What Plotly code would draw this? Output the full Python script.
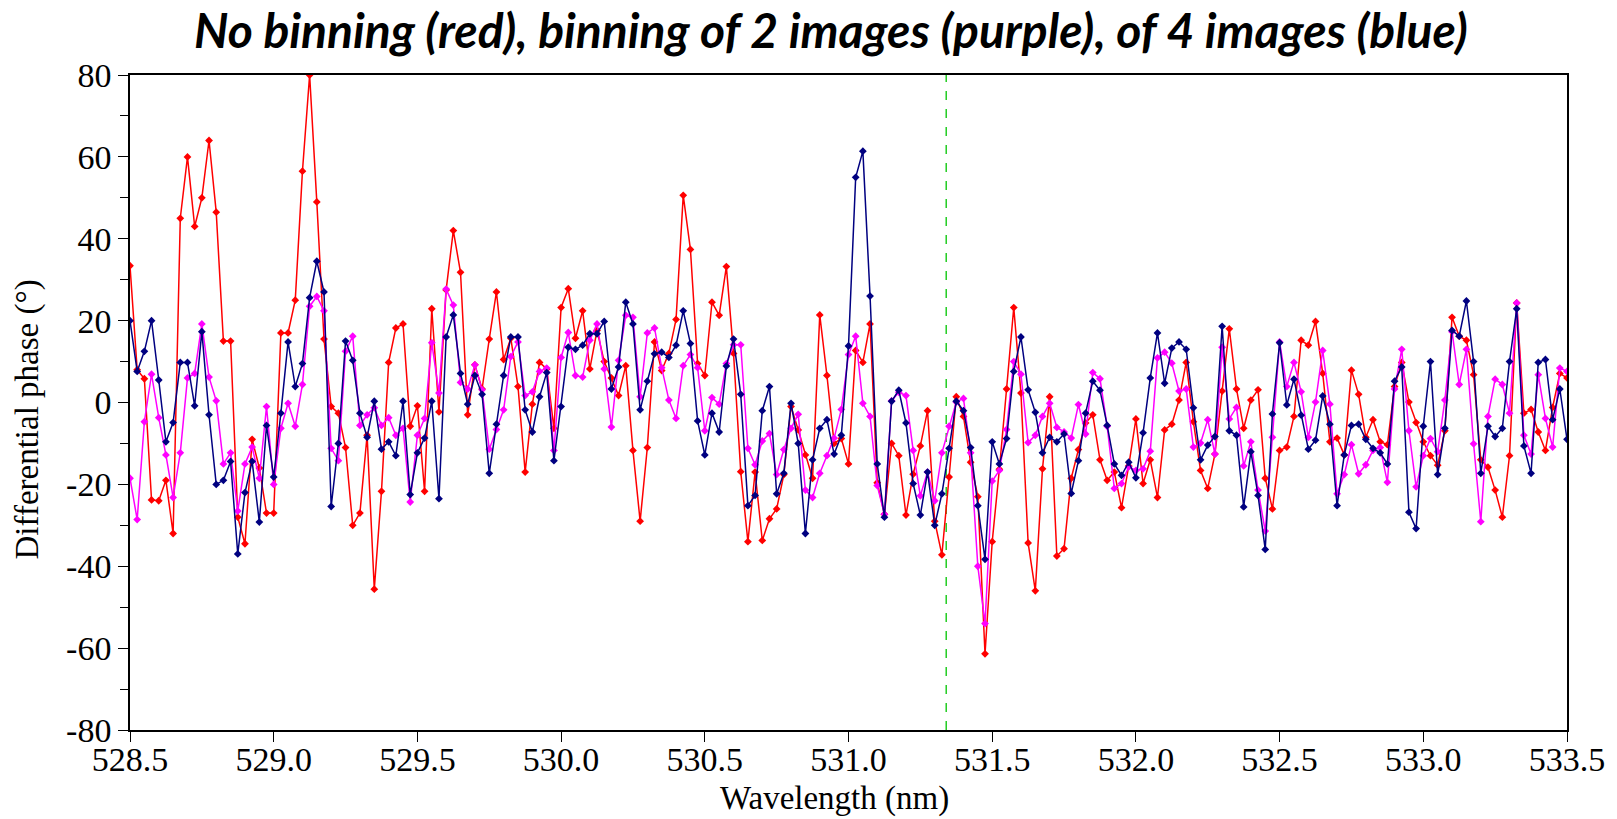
import plotly.graph_objects as go

red = [33.4, 8, 5.8, -23.8, -24, -19, -32, 45, 60, 43, 50, 64, 46.5, 15, 15, -28, -34.5, -9, -16, -27,
       -27, 17, 17, 25, 56.5, 80, 49, 15.5, -1, -2.6, -11, -30, -27, -8, -45.6, -21.7, 9.8, 18.2, 19.2, -5.8,
       -0.8, -21.7, 22.9, -2.3, 27.5, 42, 31.8, -3, 9.2, 3.3, 15.5, 27, 10.5, 15.7, 3.9, -17, -0.4, 9.8, 8.2, -6.3,
       23.2, 27.8, 15.7, 22.4, 8.2, 17.6, 10, 6, 1.7, 9, -11.7, -29, -11, 14.8, 7.8, 12, 20.3, 50.6, 37.4, 9.5,
       6.6, 24.5, 21.3, 33.2, 12, -16.9, -34, -17, -33.7, -28.4, -26, -17.6, -1, -6.7, -12.8, -18.5, 21.4, 6.6, -10, -8.8,
       -15, 12.7, 9.8, 19.2, -19.6, -27.3, -10, -13, -27.5, -17.5, -10.6, -2, -29, -37.2, -18.2, 1.4, -3.4, -14.6, -23, -61.4,
       -34, -16.3, 3.3, 23.2, 2.3, -34.3, -46, -16.2, 1.4, -37.5, -35.7, -18.5, -11.5, -5, -3, -14, -19, -17, -25.7, -15.5,
       -4, -19.8, -14, -23.2, -6.7, -5.3, 0.6, 9.8, -4.7, -16.6, -21, -12.6, 2.8, 18, 3.3, -6.3, 0.6, 3.1, -18.5, -26,
       -11.7, -10.9, -3.4, 15.2, 14, 19.8, 7.1, -9.6, -8.7, -12.8, 7.9, 2, -8.5, -4.2, -9.6, -10.3, 3.9, 9.8, 0.1, -4.9,
       -9.6, -13, -15.3, -6.9, 20.8, 16.2, 15.2, 6.8, -14, -15.8, -21.4, -28, -13, 24.3, -2.6, -1.7, -7.2, -11.7, -1.2, 7.1,
       6]

purple = [-18.5, -28.6, -4.7, 6.9, -3.7, -12.8, -23.2, -12.3, 6, 7.1, 19.2, 6.2, 0.4, -15, -12.3, -26.5, -15, -10.9, -18.5, -1,
          -20, -6.3, -0.2, -5.8, 4.4, 23.5, 25.9, 22.4, -11.2, -14.2, 12.5, 16.2, -5.6, -3, -1.3, -5.6, -3.7, -8, -6.3, -24.3,
          -8, -3.9, 14.6, 2.3, 27.7, 23.8, 4.9, 3.3, 9.2, 3.1, -11.4, -6.6, -1.8, 11.2, 14.8, 1.7, 2.6, 7.6, 8.4, -11.7,
          11, 17.1, 6.6, 6.2, 15.2, 19.2, 8.2, -6, 10.3, 21.3, 20.8, 1.4, 17, 18.2, 8.5, 0.6, -3.9, 9, 11.7, 8.5,
          -6.9, 1.2, -0.4, 9.5, 14.1, 14.1, -11.2, -15.2, -9.4, -7.6, -17.6, -11.5, -6.3, -2.9, -21.4, -23.2, -17.3, -13, -8.7, -1.7,
          11.7, 16.2, -0.2, -3.4, -20.3, -27.3, 0.4, 2.5, 1.7, -11.7, -22.8, -17, -24, -12.3, -5.8, 0.1, 1, -12.3, -40, -54,
          -19.2, -16.6, -6.6, 10, 6.9, -9.8, -8, -3.4, -0.2, -6.1, -7.2, -8.7, -0.5, -7.7, 7.3, 5.8, -5.8, -21, -19.8, -15.7,
          -16.6, -16.2, -11.9, 10.9, 12.3, 9.6, 2.8, 3.3, -10.9, -9.9, -4.2, -12.6, 13.5, -4, -1.2, -15.5, -9.6, -21.4, -31.4, -8.5,
          14.8, 3.9, 9.8, 2.6, -8.5, 0.1, 12.7, -0.4, -22.3, -17.6, -10.3, -17.4, -15.2, -11.7, -11, -19.5, 3.3, 13, -6.9, -20.6,
          -13, -8.8, -12, 0.6, 17.3, 4.4, 13, -10.1, -29.1, -3.4, 5.7, 4.4, -2.6, 24.3, -8, -12.6, 6.8, -3.9, -10.9, 8.4,
          7.6]

blue = [20, 7.6, 12.5, 20, 5.5, -9.6, -4.9, 9.8, 9.8, -0.8, 17.3, -3, -20, -19, -14.4, -37, -22, -14.4, -29.2, -5.6,
        -18.2, -2.6, 14.8, 3.9, 9.5, 25.6, 34.5, 27, -25.4, -10, 15, 10.3, -2.6, -8.5, 0.3, -11.4, -9.6, -13, 0.3, -22.5,
        -12.3, -8.7, 0.3, -23.5, 16, 21.4, 7.1, -0.4, 6.6, 2, -17.3, -5.3, 6.6, 16, 16, -1.8, -7.2, 1.4, 7.3, -14.2,
        -1, 13.5, 13, 14, 16.8, 16.8, 19.8, 3.3, 8.7, 24.5, 19.2, -1.8, 5.2, 11.9, 12.3, 11, 14, 22.4, 14.4, -4.5,
        -12.8, -2.6, -7.2, 8.9, 15.5, 2, -25.2, -22.7, -2, 3.9, -22.3, -17.3, -0.2, -10, -32, -14, -6.3, -4.2, -12.6, -8,
        13.8, 55, 61.4, 26, -15, -28, 0.3, 3, -5, -19.8, -27.5, -17, -30, -22.3, -11.2, 0.3, -2, -11, -25.2, -38.3,
        -9.6, -15, -8.8, 7.6, 16, 3.1, -2.4, -12.3, -8.5, -9.6, -7.7, -22.2, -14.2, -2.6, 5.2, 3, -5.6, -15, -17.8, -14.6,
        -18.4, -7.4, 6, 17, 4.7, 13.3, 14.8, 13, -1.3, -14, -10.4, -8.3, 18.6, -6.9, -8, -25.5, -12, -22.7, -35.9, -2.8,
        14.6, -0.6, 5.7, -3.1, -11.4, -9.2, 1.6, -5.3, -25.2, -12.8, -5.6, -5.3, -9, -11.2, -12.3, -15, 5.2, 8.7, -26.8, -30.8,
        -5.8, 10, -17.6, -6.3, 17.6, 16.2, 24.8, 10, -17.3, -5.8, -8.3, -6.3, 10, 22.9, -10.6, -17.3, 9.8, 10.5, -4.2, 3.3,
        -9]

wl_start = 528.5
wl_step = 0.025
wavelength = [round(wl_start + wl_step * i, 3) for i in range(len(red))]
marker_line_nm = 531.34

x_ticks = [528.5, 529.0, 529.5, 530.0, 530.5, 531.0, 531.5, 532.0, 532.5, 533.0, 533.5]
y_ticks = [-80, -60, -40, -20, 0, 20, 40, 60, 80]

series = [
    ("No binning", red, "#ff0000"),
    ("Binning 2", purple, "#ff00ff"),
    ("Binning 4", blue, "#000080"),
]

SERIF = "Liberation Serif"
TICK_SERIF = "Times New Roman, Liberation Serif, serif"

fig = go.Figure()
for name, vals, col in series:
    fig.add_trace(go.Scatter(
        x=wavelength, y=vals, mode="lines+markers", name=name,
        line=dict(color=col, width=1.5),
        marker=dict(symbol="diamond", size=6, color=col),
    ))

fig.add_shape(type="line", xref="x", yref="paper", x0=marker_line_nm, x1=marker_line_nm, y0=0, y1=1,
              line=dict(color="#22cc22", width=1.5, dash="dash"), layer="below")

tick_font = dict(family=TICK_SERIF, size=34, color="black")
axis_common = dict(showline=True, linecolor="black", linewidth=1.5, mirror=True,
                   ticks="outside", tickcolor="black", tickwidth=1.2, ticklen=10,
                   showgrid=False, zeroline=False, tickfont=tick_font)

fig.update_xaxes(range=[528.5, 533.5], tickvals=x_ticks, ticktext=[f"{v:.1f}" for v in x_ticks], **axis_common)
try:
    fig.update_xaxes(ticklabelstandoff=-12)
except Exception:
    pass
fig.update_yaxes(range=[-80, 80], tickvals=y_ticks, ticktext=[str(v) for v in y_ticks],
                 minor=dict(dtick=10, ticks="outside", ticklen=8, tickcolor="black", tickwidth=1.2),
                 **axis_common)

fig.add_annotation(text="<b><i>No binning (red), binning of 2 images (purple), of 4 images (blue)</i></b>",
                   xref="paper", yref="paper", x=0.488, y=1, yshift=46, showarrow=False,
                   xanchor="center", yanchor="middle",
                   font=dict(family="Lato", size=48, color="black"))
fig.add_annotation(text="Wavelength (nm)", xref="paper", yref="paper", x=0.4905, y=0, yshift=-68,
                   showarrow=False, xanchor="center", yanchor="middle",
                   font=dict(family=SERIF, size=33, color="black"))
fig.add_annotation(text="Differential phase (°)", xref="paper", yref="paper", x=0, y=0.5, xshift=-103,
                   yshift=-17, showarrow=False, xanchor="center", yanchor="middle", textangle=-90,
                   font=dict(family=SERIF, size=33, color="black"))

fig.update_layout(width=1617, height=819, margin=dict(l=130, r=47, t=75, b=89),
                  paper_bgcolor="white", plot_bgcolor="white", showlegend=False,
                  font=dict(family=SERIF))

fig.write_html("out.html")
